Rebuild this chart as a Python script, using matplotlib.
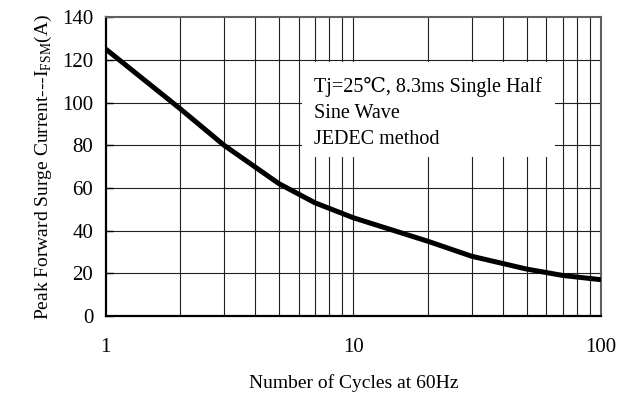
import matplotlib
matplotlib.use("Agg")
import matplotlib.pyplot as plt
from matplotlib.ticker import FixedLocator, NullFormatter

plt.rcParams['font.family'] = ['Liberation Serif', 'DejaVu Serif']
plt.rcParams['mathtext.fontset'] = 'custom'
plt.rcParams['mathtext.rm'] = 'Liberation Serif'

# curve values
cycles = [1, 2, 3, 5, 7, 10, 20, 30, 50, 70, 100]
surge_current = [125, 97, 80, 62, 53, 46, 35, 28, 22, 19, 17]

x_ticks = [1, 10, 100]
x_tick_labels = ['1', '10', '100']
y_ticks = [0, 20, 40, 60, 80, 100, 120, 140]

fig = plt.figure(figsize=(6.19, 3.98), dpi=100)
ax = fig.add_axes([0.171, 0.206, 0.80, 0.751])

ax.set_xscale('log')
ax.set_xlim(1, 100)
ax.set_ylim(0, 140)

# grid lines
minor = [m * d for d in (1, 10) for m in range(2, 10)]
for v in minor + [10]:
    ax.axvline(v, color='#202020', lw=0.8, zorder=1)
for v in y_ticks[1:-1]:
    ax.axhline(v, color='#202020', lw=0.8, zorder=1)

ax.plot(cycles, surge_current, color='black', lw=3.6, zorder=4,
        solid_joinstyle='round', solid_capstyle='butt')

ax.xaxis.set_major_locator(FixedLocator(x_ticks))
ax.set_xticklabels(x_tick_labels)
ax.xaxis.set_minor_locator(FixedLocator(minor))
ax.xaxis.set_minor_formatter(NullFormatter())
ax.set_yticks(y_ticks)
ax.tick_params(axis='x', which='both', length=0, pad=16, labelsize=15)
ax.tick_params(axis='y', direction='in', length=5, width=1, pad=9, labelsize=15)

for s in ('left', 'bottom'):
    ax.spines[s].set_linewidth(1.6)
    ax.spines[s].set_color('black')
for s in ('top', 'right'):
    ax.spines[s].set_linewidth(1.5)
    ax.spines[s].set_color('#606060')

ax.set_xlabel('Number of Cycles at 60Hz', fontsize=14, labelpad=12)
ax.set_ylabel(r'Peak Forward Surge Current---I$_{\mathrm{FSM}}$(A)', fontsize=14, labelpad=6)

ax.add_patch(plt.Rectangle((0.396, 0.532), 0.511, 0.317, transform=ax.transAxes,
                           facecolor='white', edgecolor='none', zorder=2))
ax.text(0.42, 0.80, 'Tj=25\u2103, 8.3ms Single Half\nSine Wave\nJEDEC method',
        transform=ax.transAxes, fontsize=14.5, va='top', ha='left',
        linespacing=1.5, zorder=3)

fig.savefig('out.png', dpi=100)
